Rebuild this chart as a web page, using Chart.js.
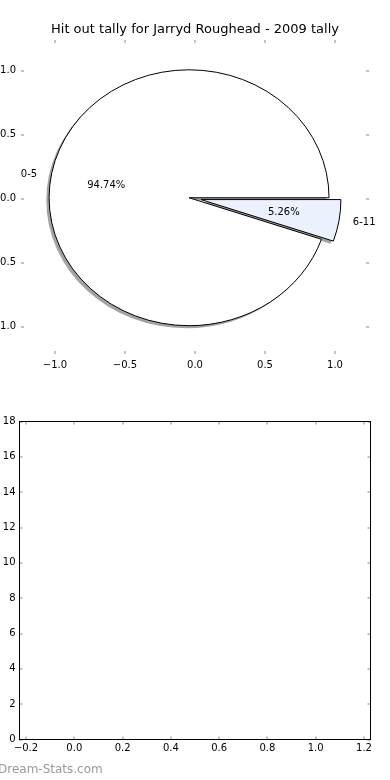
<!DOCTYPE html>
<html><head><meta charset="utf-8">
<script src="https://cdn.jsdelivr.net/npm/chart.js@4/dist/chart.umd.min.js"></script>
<style>
html,body{margin:0;padding:0;background:#fff;width:390px;height:780px;overflow:hidden;position:relative;}
canvas{position:absolute;left:0;}
#c1{top:0}
#c2{top:390px}
#wm{position:absolute;left:-2px;top:761px;font:12px 'DejaVu Sans';color:#999;white-space:nowrap;line-height:16px}
</style></head><body>
<canvas id="c1" width="390" height="390"></canvas>
<canvas id="c2" width="390" height="390"></canvas>
<div id="wm">Dream-Stats.com</div>
<script>
// ---- data ----
const chartTitle = 'Hit out tally for Jarryd Roughead - 2009 tally';
const sliceLabels = ['0-5', '6-11'];
const sliceValues = [18, 1];
const pieXTicks = [-1.0, -0.5, 0.0, 0.5, 1.0];
const pieYTicks = [-1.0, -0.5, 0.0, 0.5, 1.0];
const histXTicks = [-0.2, 0.0, 0.2, 0.4, 0.6, 0.8, 1.0, 1.2];
const histYTicks = [0, 2, 4, 6, 8, 10, 12, 14, 16, 18];

// ---- style ----
const sliceColors = ['#ffffff', '#ebf1fd'];
const explode = [0.043, 0.043];
const FONT = "'DejaVu Sans'";
Chart.defaults.font.family = FONT;
Chart.defaults.color = '#000';

const fmt1 = v => Number(v).toFixed(1).replace('-', '\u2212');

function tickMarks(frame) {
  return {
    id: 'tickMarks',
    afterDraw(chart) {
      const {ctx, chartArea: a, scales: {x, y}} = chart;
      ctx.save();
      ctx.strokeStyle = '#c4c4c4';
      ctx.lineWidth = 2;
      const L = 3;
      x.ticks.forEach(t => {
        const p = Math.round(x.getPixelForValue(t.value));
        ctx.beginPath();
        ctx.moveTo(p, a.top); ctx.lineTo(p, a.top + L);
        ctx.moveTo(p, a.bottom); ctx.lineTo(p, a.bottom - L);
        ctx.stroke();
      });
      y.ticks.forEach(t => {
        const p = Math.round(y.getPixelForValue(t.value));
        ctx.beginPath();
        ctx.moveTo(a.left, p); ctx.lineTo(a.left + L, p);
        ctx.moveTo(a.right, p); ctx.lineTo(a.right - L, p);
        ctx.stroke();
      });
      if (frame) {
        ctx.strokeStyle = '#000';
        ctx.lineWidth = 1;
        ctx.strokeRect(a.left, a.top, a.right - a.left, a.bottom - a.top);
      }
      ctx.restore();
    }
  };
}

const piePlugin = {
  id: 'pieSlices',
  afterDatasetsDraw(chart) {
    const {ctx, scales: {x, y}} = chart;
    const total = sliceValues.reduce((s, v) => s + v, 0);
    const rx = x.getPixelForValue(1) - x.getPixelForValue(0);
    const ry = y.getPixelForValue(0) - y.getPixelForValue(1);
    let start = 0;
    const wedges = sliceValues.map((v, i) => {
      const a0 = start, a1 = start + v / total * 2 * Math.PI;
      start = a1;
      const mid = (a0 + a1) / 2;
      return {i, a0, a1, mid, v,
        cx: Math.cos(mid) * explode[i], cy: Math.sin(mid) * explode[i]};
    });
    function path(cx, cy, a0, a1) {
      const px = x.getPixelForValue(cx), py = y.getPixelForValue(cy);
      ctx.beginPath();
      ctx.moveTo(px, py);
      ctx.ellipse(px, py, rx, ry, 0, -a0, -a1, true);
      ctx.closePath();
    }
    ctx.save();
    wedges.forEach(w => {
      path(w.cx - 0.02, w.cy - 0.02, w.a0, w.a1);
      ctx.fillStyle = 'rgba(70,72,76,0.5)';
      ctx.fill();
    });
    wedges.forEach(w => {
      path(w.cx, w.cy, w.a0, w.a1);
      ctx.fillStyle = sliceColors[w.i];
      ctx.fill();
      ctx.strokeStyle = '#000';
      ctx.lineWidth = 1;
      ctx.lineJoin = 'miter';
      ctx.stroke();
    });
    ctx.fillStyle = '#000';
    ctx.font = '10px ' + FONT;
    ctx.textBaseline = 'middle';
    wedges.forEach(w => {
      const lx = w.cx + 1.1 * Math.cos(w.mid), ly = w.cy + 1.1 * Math.sin(w.mid);
      ctx.textAlign = lx > 0 ? 'left' : 'right';
      ctx.fillText(sliceLabels[w.i], x.getPixelForValue(lx), y.getPixelForValue(ly));
      const tx = w.cx + 0.6 * Math.cos(w.mid), ty = w.cy + 0.6 * Math.sin(w.mid);
      ctx.textAlign = 'center';
      ctx.fillText((w.v / total * 100).toFixed(2) + '%', x.getPixelForValue(tx), y.getPixelForValue(ty));
    });
    ctx.restore();
  }
};

new Chart(document.getElementById('c1'), {
  type: 'scatter',
  data: {datasets: []},
  plugins: [piePlugin, tickMarks(false)],
  options: {
    responsive: false,
    animation: false,
    layout: {padding: {left: 0, right: 21, top: 0, bottom: 0}},
    plugins: {
      legend: {display: false},
      tooltip: {enabled: false},
      title: {display: true, fullSize: false, text: chartTitle, color: '#000',
        font: {size: 13, weight: 'normal', family: FONT, lineHeight: 1.2},
        padding: {top: 22, bottom: 2.4}}
    },
    scales: {
      x: {type: 'linear', min: -1.243, max: 1.243,
        afterBuildTicks: s => { s.ticks = pieXTicks.map(v => ({value: v})); },
        afterFit: s => { s.height = 36; },
        grid: {display: false, drawTicks: false}, border: {display: false},
        ticks: {padding: 5, font: {size: 10}, color: '#000', callback: v => fmt1(v), maxRotation: 0, autoSkip: false}},
      y: {type: 'linear', min: -1.214, max: 1.240,
        afterBuildTicks: s => { s.ticks = pieYTicks.map(v => ({value: v})); },
        afterFit: s => { s.width = 21; },
        grid: {display: false, drawTicks: false}, border: {display: false},
        ticks: {padding: 5, font: {size: 10}, color: '#000', callback: v => fmt1(v), autoSkip: false}}
    }
  }
});

new Chart(document.getElementById('c2'), {
  type: 'scatter',
  data: {datasets: []},
  plugins: [tickMarks(true)],
  options: {
    responsive: false,
    animation: false,
    layout: {padding: {left: 0, right: 19.5, top: 31.5, bottom: 0}},
    plugins: {legend: {display: false}, tooltip: {enabled: false}},
    scales: {
      x: {type: 'linear', min: -0.227, max: 1.227,
        afterBuildTicks: s => { s.ticks = histXTicks.map(v => ({value: v})); },
        afterFit: s => { s.height = 40.5; },
        grid: {display: false, drawTicks: false}, border: {display: false},
        ticks: {padding: 3, font: {size: 10}, color: '#000', callback: v => fmt1(v), maxRotation: 0, autoSkip: false}},
      y: {type: 'linear', min: 0, max: 18,
        afterBuildTicks: s => { s.ticks = histYTicks.map(v => ({value: v})); },
        afterFit: s => { s.width = 19.5; },
        grid: {display: false, drawTicks: false}, border: {display: false},
        ticks: {padding: 4, font: {size: 10}, color: '#000', callback: v => String(v), autoSkip: false}}
    }
  }
});
</script>
</body></html>
